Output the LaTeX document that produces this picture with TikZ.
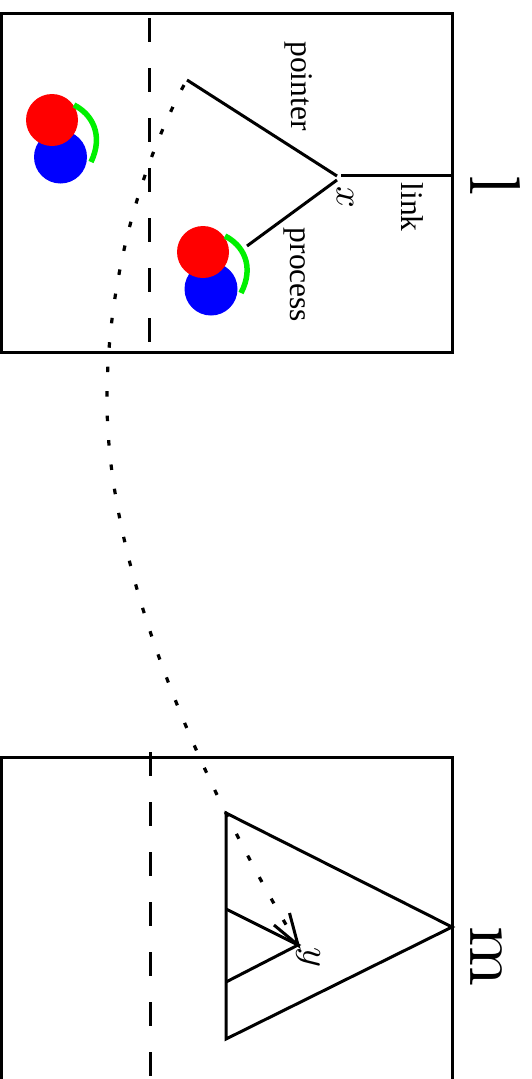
\documentclass[tikz,border=0pt]{standalone}
\usepackage{graphicx}
\usepackage{fontspec}
\setmainfont{Liberation Serif}
\newfontfamily\bigfont{Latin Modern Roman}
\definecolor{arcgreen}{RGB}{0,240,0}
\tikzset{
  ink/.style={line width=3pt,black},
  dashline/.style={line width=3pt,dash pattern=on 24pt off 26pt},
  dotline/.style={line width=3.2pt,dash pattern=on 5.5pt off 19pt},
  arcline/.style={line width=5.5pt,arcgreen},
  lab/.style={rotate=-90,inner sep=0pt,font=\fontsize{31.5}{32}\selectfont},
  mathlab/.style={rotate=-90,inner sep=0pt},
  biglab/.style={rotate=-90,inner sep=0pt},
  redball/.style={circle,fill=red,minimum size=52pt,inner sep=0pt},
  blueball/.style={circle,fill=blue,minimum size=53pt,inner sep=0pt}
}
\begin{document}
\begin{tikzpicture}[x=1pt,y=-1pt]
\useasboundingbox (0,0) rectangle (531,1079);
% boxes
\draw[ink] (1,13) rectangle (452,352);
\draw[ink] (1,1079) -- (1,757) -- (452,757) -- (452,1079);
% dashed lines
\coordinate (da) at (149,18); \coordinate (db) at (149,345);
\coordinate (dc) at (150,752); \coordinate (dd) at (150,1079);
\draw[dashline] (da) -- (db);
\draw[dashline] (dc) -- (dd);
% upper structure
\coordinate (x) at (339,176);
\coordinate (linkend) at (452,175);
\coordinate (ptr) at (187,80);
\coordinate (proc) at (247,246);
\draw[ink] (ptr) -- (337,176);
\draw[ink] (341,175) -- (linkend);
\draw[ink] (337,180) -- (proc);
% balls
\node[blueball] (b1) at (60.5,157) {};
\node[redball] (r1) at (52,120) {};
\node[blueball] (b2) at (211,289) {};
\node[redball] (r2) at (203,252) {};
\coordinate (g1a) at (74,105); \coordinate (g1b) at (91,162);
\coordinate (g2a) at (225,236); \coordinate (g2b) at (241,293);
\draw[arcline] (g1a) .. controls (92,114) and (104,135) .. (g1b);
\draw[arcline] (g2a) .. controls (243,245) and (255,266) .. (g2b);
% triangle
\coordinate (ta) at (226,813);
\coordinate (tb) at (452,927);
\coordinate (tc) at (226,1039);
\coordinate (y) at (298,945);
\coordinate (ia) at (226,909);
\coordinate (ib) at (226,982);
\draw[ink,line join=miter] (ta) -- (tb) -- (tc) -- cycle;
\draw[ink] (ia) -- (y) -- (ib);
% arrow head
\coordinate (w1) at (274,925);
\coordinate (w2) at (289.5,913);
\draw[ink] (w1) -- (y) -- (w2);
% dotted curve
\coordinate (ds) at (184,85);
\coordinate (dm) at (107,400);
\draw[dotline] (ds) .. controls (136,175) and (107,290) .. (dm)
  .. controls (107,540) and (170,730) .. (y);
% labels
\node[lab] (tpointer) at (299,86) {pointer};
\node[lab] (tprocess) at (295,275) {process};
\node[lab] (tlink) at (412,207) {link};
\node[mathlab] (tx) at (345,197) {\scalebox{3.8}{$x$}};
\node[mathlab] (ty) at (308,957) {\scalebox{3.8}{$y$}};
\node[biglab,anchor=base] (tl) at (470,186) {\scalebox{7.2}{\bigfont l}};
\node[biglab,anchor=base] (tm) at (470,956) {\scalebox{7.2}{\bigfont m}};
\end{tikzpicture}
\end{document}
